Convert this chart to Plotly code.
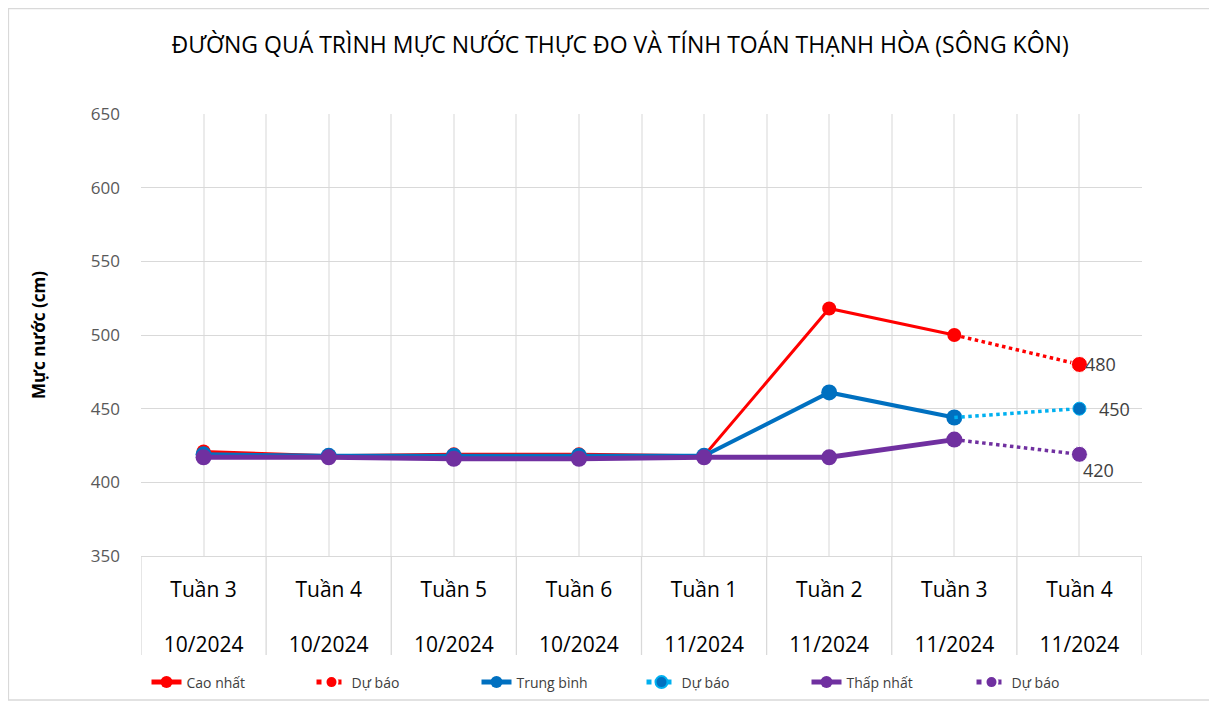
import plotly.graph_objects as go

weeks = ["Tuần 3", "Tuần 4", "Tuần 5", "Tuần 6", "Tuần 1", "Tuần 2", "Tuần 3", "Tuần 4"]
months = ["10/2024", "10/2024", "10/2024", "10/2024", "11/2024", "11/2024", "11/2024", "11/2024"]

cao_nhat = [421, 418, 419, 419, 418, 518, 500]
trung_binh = [419, 418, 418, 418, 418, 461, 444]
thap_nhat = [417, 417, 416, 416, 417, 417, 429]

cao_du_bao = [500, 480]
tb_du_bao = [444, 450]
thap_du_bao = [429, 419]
du_bao_labels = ["480", "450", "420"]

yticks = [350, 400, 450, 500, 550, 600, 650]

RED = "#FF0000"
BLUE = "#0070C0"
LBLUE = "#00B0F0"
PURPLE = "#7030A0"

n = len(weeks)
xi = list(range(n))
x_obs = xi[:len(cao_nhat)]
x_fc = xi[len(cao_nhat) - 1:]

fig = go.Figure()

fig.add_trace(go.Scatter(x=x_obs, y=cao_nhat, name="Cao nhất", mode="lines+markers",
                         line=dict(color=RED, width=3), marker=dict(color=RED, size=14)))
fig.add_trace(go.Scatter(x=x_fc, y=cao_du_bao, name="Dự báo", mode="lines+markers",
                         line=dict(color=RED, width=3.5, dash="dot"),
                         marker=dict(color=RED, size=[0, 16], opacity=1)))
fig.add_trace(go.Scatter(x=x_obs, y=trung_binh, name="Trung bình", mode="lines+markers",
                         line=dict(color=BLUE, width=4), marker=dict(color=BLUE, size=16)))
fig.add_trace(go.Scatter(x=x_fc, y=tb_du_bao, name="Dự báo", mode="lines+markers",
                         line=dict(color=LBLUE, width=3.5, dash="dot"),
                         marker=dict(color=BLUE, size=[0, 13], opacity=1)))
fig.add_trace(go.Scatter(x=x_obs, y=thap_nhat, name="Thấp nhất", mode="lines+markers",
                         line=dict(color=PURPLE, width=5), marker=dict(color=PURPLE, size=16)))
fig.add_trace(go.Scatter(x=x_fc, y=thap_du_bao, name="Dự báo", mode="lines+markers",
                         line=dict(color=PURPLE, width=3.5, dash="dot"),
                         marker=dict(color=PURPLE, size=[0, 16], opacity=1)))

# data labels for forecast end points
lab_font = dict(family="Open Sans", size=18, color="#404040")
fig.add_annotation(x=x_fc[-1], y=cao_du_bao[-1], text=du_bao_labels[0], showarrow=False,
                   xanchor="left", xshift=4, font=lab_font)
fig.add_annotation(x=x_fc[-1], y=tb_du_bao[-1], text=du_bao_labels[1], showarrow=False,
                   xanchor="left", xshift=18, font=lab_font)
fig.add_annotation(x=x_fc[-1], y=thap_du_bao[-1], text=du_bao_labels[2], showarrow=False,
                   xanchor="left", yanchor="top", xshift=2, yshift=-2, font=lab_font)

# tick setup: gridlines at centres and boundaries
tickvals = []
ticktext = []
for i in range(n):
    tickvals.append(i - 0.5)
    ticktext.append("")
    tickvals.append(i)
    ticktext.append(f"{weeks[i]}<br><br>{months[i]}")
tickvals.append(n - 0.5)
ticktext.append("")

# separators below the axis
for i in range(n + 1):
    fig.add_shape(type="line", xref="x", yref="paper", x0=i - 0.5, x1=i - 0.5,
                  y0=0, y1=-0.224, line=dict(color="#D9D9D9", width=1.3))

# outer border
fig.add_shape(type="rect", xref="paper", yref="paper", x0=-0.1324, x1=1.0679,
              y0=-0.3258, y1=1.2387, line=dict(color="#D9D9D9", width=1.3))

fig.update_layout(
    width=1217, height=709,
    margin=dict(l=133, r=83, t=106, b=161, autoexpand=False),
    paper_bgcolor="white", plot_bgcolor="white",
    font=dict(family="Open Sans", color="#595959"),
    title=dict(text="ĐƯỜNG QUÁ TRÌNH MỰC NƯỚC THỰC ĐO VÀ TÍNH TOÁN THẠNH HÒA (SÔNG KÔN)",
               x=0.503, xanchor="center", y=0.948, yanchor="middle",
               font=dict(family="Open Sans", size=23, color="#000000")),
    showlegend=True,
    legend=dict(orientation="h", x=0.5, xanchor="center", y=-0.25, yanchor="top",
                font=dict(family="Open Sans", size=14, color="#404040"),
                itemwidth=30, entrywidth=120, tracegroupgap=0, itemsizing="constant"),
    xaxis=dict(range=[-0.5, n - 0.5], tickmode="array", tickvals=tickvals, ticktext=ticktext,
               showgrid=True, gridcolor="#EBEBEB", gridwidth=1.5, zeroline=False,
               showline=True, linecolor="#D9D9D9", linewidth=1.3, ticks="",
               tickfont=dict(family="Open Sans", size=21, color="#000000"),
               ticklabelstandoff=15, automargin=False, fixedrange=True),
    yaxis=dict(range=[350, 650], tickmode="array", tickvals=yticks,
               showgrid=True, gridcolor="#D9D9D9", gridwidth=1.3, zeroline=False,
               showline=False, ticks="", automargin=False,
               tickfont=dict(family="Open Sans", size=17, color="#595959"),
               ticklabelstandoff=20,
               title=dict(text="<b>Mực nước (cm)</b>", standoff=40,
                          font=dict(family="Open Sans", size=17, color="#000000"))),
)

fig.write_html("out.html")
